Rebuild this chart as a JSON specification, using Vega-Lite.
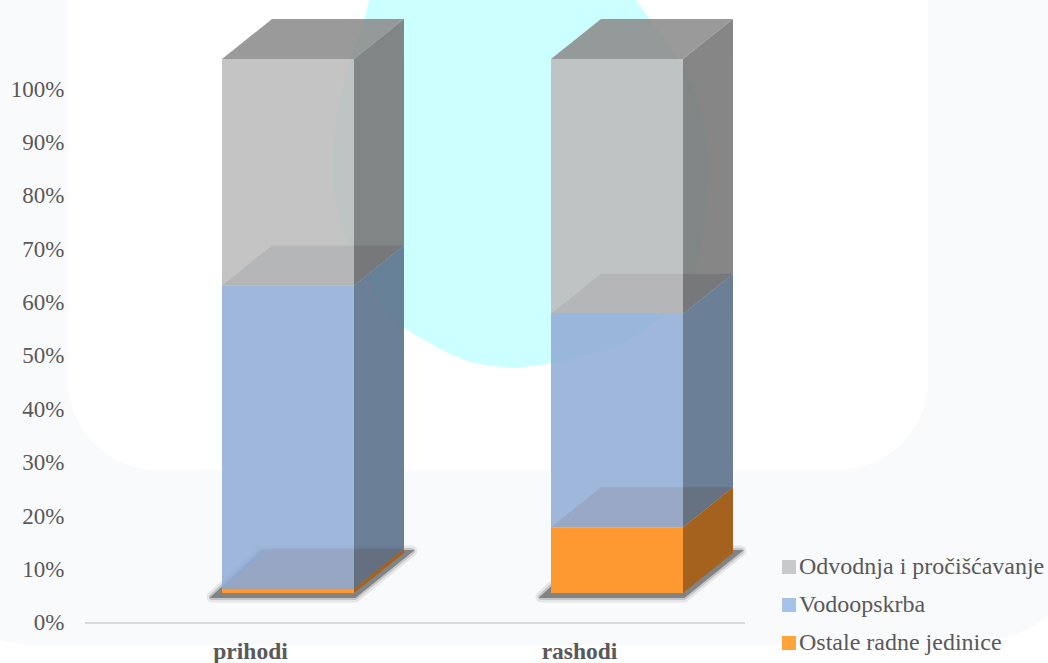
{
"$schema":"https://vega.github.io/schema/vega-lite/v6.json",
"width":1048,"height":663,"padding":0,"autosize":"none","background":"#ffffff",
"config":{"view":{"stroke":null},"font":"Liberation Serif"},
"datasets":{
"bars":[
{"category":"prihodi","series":"Ostale radne jedinice","order":1,"value":0.8},
{"category":"prihodi","series":"Vodoopskrba","order":2,"value":56.8},
{"category":"prihodi","series":"Odvodnja i pročišćavanje","order":3,"value":42.4},
{"category":"rashodi","series":"Ostale radne jedinice","order":1,"value":12.3},
{"category":"rashodi","series":"Vodoopskrba","order":2,"value":40.0},
{"category":"rashodi","series":"Odvodnja i pročišćavanje","order":3,"value":47.7}],
"cats":[{"category":"prihodi"},{"category":"rashodi"}],
"blob":[
{"level":116.67,"from":0.2462,"to":1.0578},
{"level":113.48,"from":0.2340,"to":1.0942},
{"level":104.12,"from":0.1824,"to":1.2006},
{"level":94.19,"from":0.1459,"to":1.2614},
{"level":84.83,"from":0.1368,"to":1.2766},
{"level":73.60,"from":0.1672,"to":1.2614},
{"level":64.23,"from":0.2401,"to":1.2280},
{"level":55.43,"from":0.3495,"to":1.0942},
{"level":51.69,"from":0.4529,"to":0.9878},
{"level":50.19,"from":0.5015,"to":0.9027},
{"level":48.31,"from":0.6049,"to":0.7660},
{"level":47.75,"from":0.6809,"to":0.6869}]
},
"data":{"name":"bars"},
"transform":[
{"stack":"value","groupby":["category"],"sort":[{"field":"order","order":"ascending"}],"as":["y0","y1"]},
{"calculate":"[0,1]","as":"depth"},
{"flatten":["depth"]},
{"calculate":"(datum.category==='prihodi'?0:1)","as":"pos"},
{"calculate":"datum.pos-0.2006","as":"fl"},
{"calculate":"datum.pos+0.2006","as":"fr"},
{"calculate":"datum.fl+0.152*datum.depth","as":"xl"},
{"calculate":"datum.fr+0.152*datum.depth","as":"xr"},
{"calculate":"datum.y0+5.62+7.49*datum.depth","as":"low"},
{"calculate":"datum.y1+5.62+7.49*datum.depth","as":"high"}
],
"resolve":{"scale":{"color":"independent"}},
"layer":[
{"data":{"values":[{}]},"mark":{"type":"rect","fill":"#f9fafc","cornerRadius":150,"clip":true},
 "encoding":{"x":{"datum":-1.2158,"type":"quantitative","scale":{"domain":[-0.8754,2.31],"nice":false,"zero":false},"axis":null},"x2":{"datum":2.4985},
 "y":{"datum":135.4,"type":"quantitative","scale":{"domain":[-7.491,116.667],"nice":false,"zero":false},
  "axis":{"values":[0,10,20,30,40,50,60,70,80,90,100],"labelExpr":"datum.value+'%'","domain":false,"ticks":false,"grid":false,"title":null,"offset":-64,"labelPadding":0,"labelFont":"Liberation Serif","labelFontSize":23,"labelColor":"#595959","zindex":1}},"y2":{"datum":-4.12}}},
{"data":{"values":[{}]},"mark":{"type":"rect","fill":"#ffffff","cornerRadius":90,"clip":true},
 "encoding":{"x":{"datum":-0.6687,"type":"quantitative"},"x2":{"datum":1.9453},"y":{"datum":135.4,"type":"quantitative"},"y2":{"datum":28.65}}},
{"data":{"name":"blob"},"mark":{"type":"area","orient":"horizontal","fill":"#ccffff","interpolate":"monotone","clip":true},
 "encoding":{"y":{"field":"level","type":"quantitative"},"x":{"field":"from","type":"quantitative"},"x2":{"field":"to"}}},
{"data":{"values":[{"category":"prihodi","lx":-0.617,"rx":1.389}]},"mark":{"type":"rule","color":"#d9d9d9","strokeWidth":2},
 "encoding":{"x":{"field":"lx","type":"quantitative"},"x2":{"field":"rx"},"y":{"datum":0,"type":"quantitative"}}},
{"data":{"name":"cats"},
 "transform":[{"calculate":"[0,1]","as":"depth"},{"flatten":["depth"]},{"calculate":"(datum.category==='prihodi'?0:1)","as":"pos"},
  {"calculate":"datum.pos-0.231+0.152*datum.depth","as":"sl"},{"calculate":"datum.pos+0.2036+0.173*datum.depth","as":"sr"},{"calculate":"4.87+8.6*datum.depth","as":"sy"}],
 "layer":[
 {"mark":{"type":"area","orient":"horizontal","color":"#444444","opacity":0.1,"stroke":"#444444","strokeWidth":11,"strokeJoin":"round"},
  "encoding":{"y":{"field":"sy","type":"quantitative"},"x":{"field":"sl","type":"quantitative"},"x2":{"field":"sr"},"detail":{"field":"category"}}},
 {"mark":{"type":"area","orient":"horizontal","color":"#444444","opacity":0.2,"stroke":"#444444","strokeWidth":6,"strokeJoin":"round"},
  "encoding":{"y":{"field":"sy","type":"quantitative"},"x":{"field":"sl","type":"quantitative"},"x2":{"field":"sr"},"detail":{"field":"category"}}},
 {"mark":{"type":"area","orient":"horizontal","color":"#444444","opacity":0.5,"stroke":"#444444","strokeWidth":2},
  "encoding":{"y":{"field":"sy","type":"quantitative"},"x":{"field":"sl","type":"quantitative"},"x2":{"field":"sr"},"detail":{"field":"category"}}}
 ]},
{"mark":{"type":"area","orient":"horizontal","opacity":0.88},
 "encoding":{"y":{"field":"high","type":"quantitative"},"x":{"field":"xl","type":"quantitative"},"x2":{"field":"xr"},"detail":{"field":"category"},
  "color":{"field":"series","type":"nominal","legend":null,"scale":{"domain":["Odvodnja i pročišćavanje","Vodoopskrba","Ostale radne jedinice"],"range":["#8c8c8c","#747d91","#cd7c3c"]}}}},
{"mark":{"type":"area"},
 "encoding":{"x":{"field":"xr","type":"quantitative"},"y":{"field":"low","type":"quantitative"},"y2":{"field":"high"},"detail":{"field":"category"},
  "opacity":{"condition":{"test":"datum.series==='Ostale radne jedinice'","value":1},"value":0.88},
  "color":{"field":"series","type":"nominal","legend":null,"scale":{"domain":["Odvodnja i pročišćavanje","Vodoopskrba","Ostale radne jedinice"],"range":["#757575","#566e89","#a5621e"]}}}},
{"transform":[{"filter":"datum.depth===0"}],"mark":{"type":"rect"},
 "encoding":{"x":{"field":"fl","type":"quantitative"},"x2":{"field":"fr"},"y":{"field":"low","type":"quantitative"},"y2":{"field":"high"},
  "opacity":{"condition":{"test":"datum.series==='Ostale radne jedinice'","value":1},"value":0.88},
  "color":{"field":"series","type":"nominal","legend":null,"scale":{"domain":["Odvodnja i pročišćavanje","Vodoopskrba","Ostale radne jedinice"],"range":["#bcbcbc","#91add5","#fe9830"]}}}},
{"transform":[{"filter":"datum.depth===0"}],"mark":{"type":"rect","opacity":0},
 "encoding":{"x":{"field":"fl","type":"quantitative"},"x2":{"field":"fr"},"y":{"field":"low","type":"quantitative"},"y2":{"field":"high"},
  "color":{"field":"series","type":"nominal","sort":null,"scale":{"domain":["Odvodnja i pročišćavanje","Vodoopskrba","Ostale radne jedinice"],"range":["#c9c9c9","#a5c3e8","#ffa33a"]},
   "legend":{"orient":"none","legendX":777,"legendY":555,"title":null,"symbolType":"square","symbolSize":196,"symbolOpacity":1,"symbolStrokeWidth":0,"labelFont":"Liberation Serif","labelFontSize":24,"labelColor":"#595959","labelOffset":-2,"rowPadding":14,"labelLimit":400}}}},
{"data":{"name":"cats"},"transform":[{"calculate":"(datum.category==='prihodi'?0:1)-0.114","as":"lp"}],
 "mark":{"type":"text","font":"Liberation Serif","fontWeight":"bold","fontSize":23.5,"color":"#595959","baseline":"middle"},
 "encoding":{"x":{"field":"lp","type":"quantitative"},"y":{"datum":-5.5,"type":"quantitative"},"text":{"field":"category"}}}
]
}
